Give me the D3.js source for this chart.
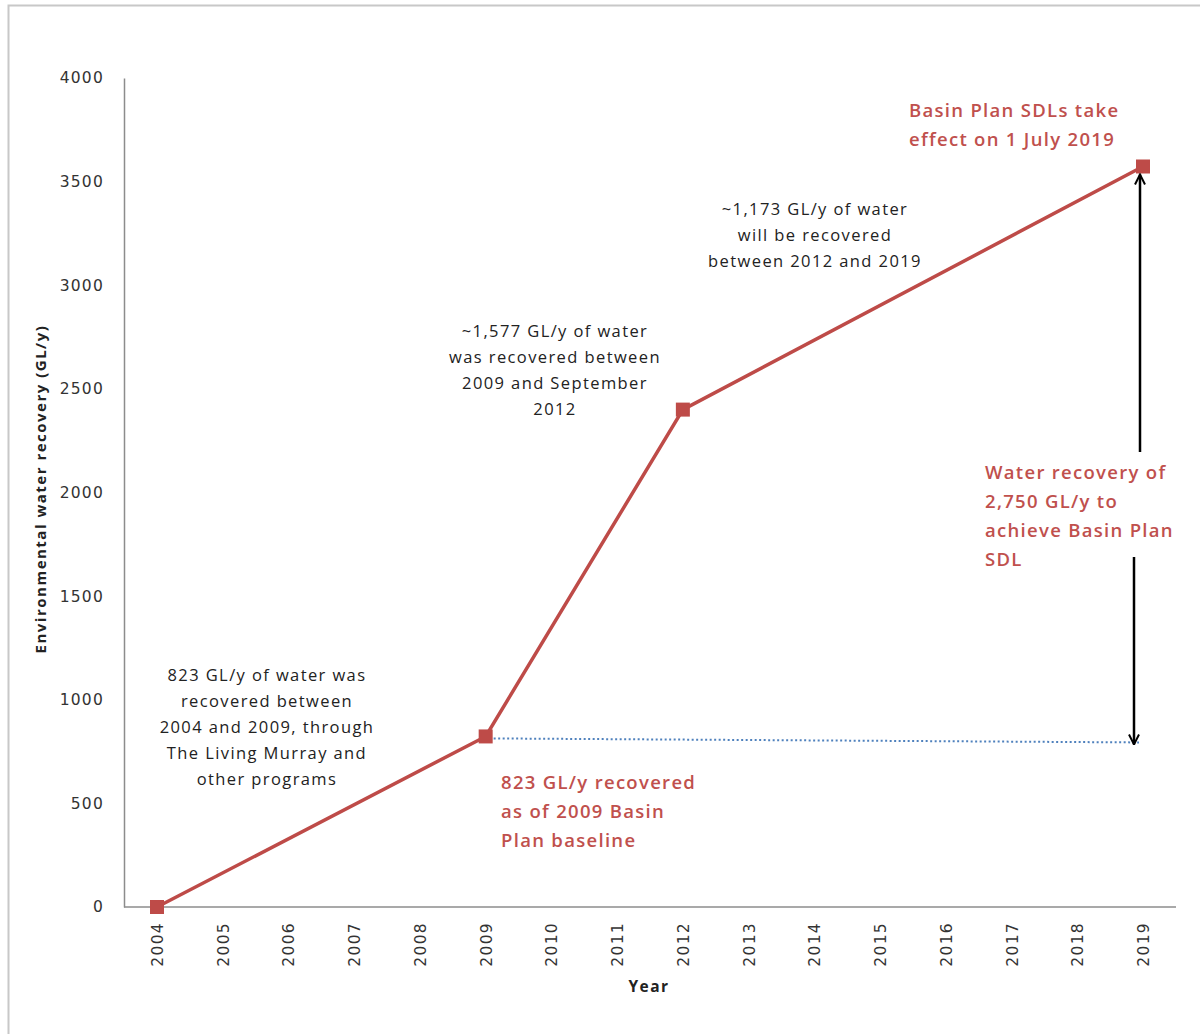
<!DOCTYPE html>
<html><head><meta charset="utf-8">
<script src="https://cdn.jsdelivr.net/npm/d3@7"></script>
<style>body{margin:0;background:#fff}</style>
</head><body><svg id="c" width="1200" height="1034"></svg>
<script>
const years = ["2004","2005","2006","2007","2008","2009","2010","2011","2012","2013","2014","2015","2016","2017","2018","2019"];
const pointYears = ["2004","2009","2012","2019"];
const pointValues = [0, 823, 2400, 3573];
const baselineValue = 823;
const yTicks = [0,500,1000,1500,2000,2500,3000,3500,4000];
const notesBlack = [
  {key:"a", lines:["823 GL/y of water was","recovered between","2004 and 2009, through","The Living Murray and","other programs"]},
  {key:"b", lines:["~1,577 GL/y of water","was recovered between","2009 and September","2012"]},
  {key:"c", lines:["~1,173 GL/y  of water","will be recovered","between 2012 and 2019"]}
];
const svg = d3.select("#c");
svg.append("rect").attr("x",8.5).attr("y",5.5).attr("width",1200).attr("height",1040).attr("fill","#fff").attr("stroke","#c8c8c8").attr("stroke-width",2);
const x = d3.scalePoint().domain(years).range([157,1143]);
const y = d3.scaleLinear().domain([0,4000]).range([907,78]);
const font = "'DejaVu Sans', Verdana, sans-serif";
const font2 = "'Open Sans', 'Noto Sans', sans-serif";
const red = "#be4b48", redText="#c0504d";
// axes
const yAx = svg.append("g").attr("transform","translate(124,0)").call(d3.axisLeft(y).tickValues(yTicks).tickFormat(d3.format("d")).tickSize(0).tickPadding(20));
yAx.select(".domain").attr("stroke","#8c8c8c").attr("stroke-width",1.5);
yAx.selectAll("text").attr("font-family",font).attr("font-size",15.5).attr("letter-spacing","1.2px").attr("fill","#333");
const xAx = svg.append("g").attr("transform","translate(0,907)");
xAx.append("line").attr("x1",124).attr("x2",1176).attr("y1",0).attr("y2",0).attr("stroke","#8c8c8c").attr("stroke-width",1.5);
xAx.selectAll("text.yl").data(years).join("text").attr("class","yl")
  .attr("transform",d=>`translate(${x(d)+6},${15}) rotate(-90)`).attr("text-anchor","end")
  .attr("font-family",font).attr("font-size",15.5).attr("letter-spacing","1.3px").attr("fill","#333").text(d=>d);
svg.append("text").attr("x",649).attr("y",992).attr("text-anchor","middle").attr("font-family",font2).attr("font-weight","bold").attr("font-size",15.5).attr("letter-spacing","1.5px").attr("fill","#222").text("Year");
svg.append("text").attr("transform","translate(46,489) rotate(-90)").attr("text-anchor","middle").attr("font-family",font2).attr("font-weight","bold").attr("font-size",15).attr("letter-spacing","1.5px").attr("fill","#222").text("Environmental water recovery (GL/y)");
// baseline dotted
svg.append("line").attr("x1",x("2009")+8).attr("x2",x("2019")-4).attr("y1",y(baselineValue)+2).attr("y2",y(baselineValue)+6)
  .attr("stroke","#4f81bd").attr("stroke-width",2).attr("stroke-dasharray","2,2.5");
// line
const pts = pointYears.map((d,i)=>({yr:d,v:pointValues[i]}));
svg.append("path").datum(pts).attr("fill","none").attr("stroke",red).attr("stroke-width",3.5)
  .attr("d",d3.line().x(d=>x(d.yr)).y(d=>y(d.v)));
svg.selectAll("rect.m").data(pts).join("rect").attr("class","m")
  .attr("x",d=>x(d.yr)-7).attr("y",d=>y(d.v)-7).attr("width",14).attr("height",14).attr("fill",red);
// arrows
const ax = x("2019")-3;
svg.append("defs").append("marker").attr("id","ah").attr("viewBox","0 0 12 12").attr("refX",11).attr("refY",6)
  .attr("markerWidth",12).attr("markerHeight",12).attr("markerUnits","userSpaceOnUse").attr("orient","auto")
  .append("path").attr("d","M1,1 L11,6 L1,11").attr("fill","none").attr("stroke","#000").attr("stroke-width",2);
svg.append("line").attr("x1",ax).attr("x2",ax).attr("y1",452).attr("y2",y(3573)+8).attr("stroke","#000").attr("stroke-width",2.5).attr("marker-end","url(#ah)");
svg.append("line").attr("x1",ax-6).attr("x2",ax-6).attr("y1",557).attr("y2",y(baselineValue)+8).attr("stroke","#000").attr("stroke-width",2.5).attr("marker-end","url(#ah)");
// black notes
const noteX = {a:267,b:555,c:815};
const noteY = {a:681,b:337,c:215};
notesBlack.forEach(n=>{
  const t = svg.append("text").attr("text-anchor","middle").attr("font-family",font2).attr("font-size",16.5).attr("letter-spacing","1.4px").attr("fill","#222");
  n.lines.forEach((l,i)=>t.append("tspan").attr("x",noteX[n.key]).attr("y",noteY[n.key]+i*26).text(l));
});
function redNote(lines,xx,y0,dy){
  const t = svg.append("text").attr("font-family",font2).attr("font-size",18.5).attr("letter-spacing","1.3px").attr("fill",redText).attr("font-weight",600);
  lines.forEach((l,i)=>t.append("tspan").attr("x",xx).attr("y",y0+i*dy).text(l));
}
redNote(["Basin Plan SDLs take","effect on 1 July 2019"],909,117,29);
redNote(["Water recovery of","2,750 GL/y to","achieve Basin Plan","SDL"],985,479,29);
redNote(["823 GL/y recovered","as of 2009 Basin","Plan baseline"],501,789,29);
</script></body></html>
